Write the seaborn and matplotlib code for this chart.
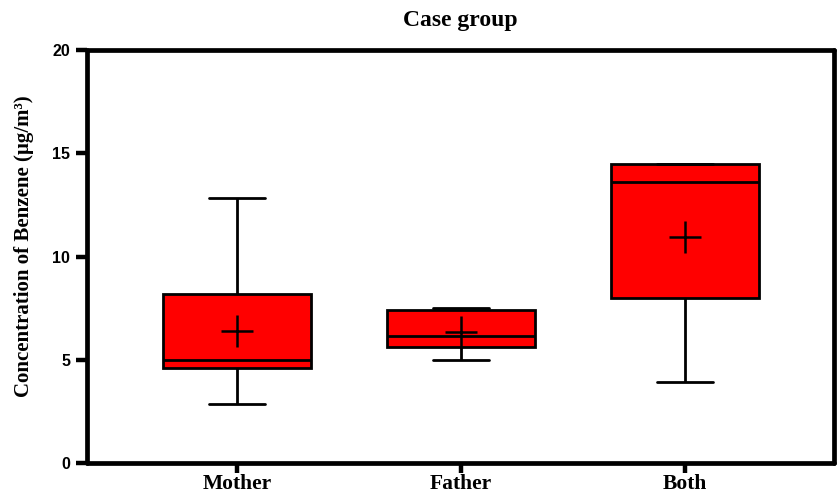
import matplotlib
matplotlib.use("Agg")
import matplotlib.pyplot as plt
import seaborn as sns
import pandas as pd

# Five-number summaries (min, Q1, median, Q3, max) and means per group
groups = ["Mother", "Father", "Both"]
mins = [2.85, 4.98, 3.92]
q1s = [4.60, 5.62, 7.99]
medians = [4.99, 6.15, 13.60]
q3s = [8.18, 7.41, 14.48]
maxs = [12.83, 7.50, 14.48]
means = [6.39, 6.34, 10.94]
yticks = [0, 5, 10, 15, 20]

rows = []
for g, a, b, c, d, e in zip(groups, mins, q1s, medians, q3s, maxs):
    for v in (a, b, c, d, e):
        rows.append({"group": g, "value": v})
df = pd.DataFrame(rows)
mean_df = pd.DataFrame({"group": groups, "value": means})

sns.set_theme(style="white")
plt.rcParams["font.family"] = ["Liberation Serif", "DejaVu Serif"]
plt.rcParams["text.color"] = "black"
plt.rcParams["axes.labelcolor"] = "black"
plt.rcParams["xtick.color"] = "black"
plt.rcParams["ytick.color"] = "black"

fig = plt.figure(figsize=(8.39, 4.97), dpi=100)
ax = fig.add_axes([0.1037, 0.0684, 0.8903, 0.831])

sns.boxplot(data=df, x="group", y="value", order=groups, whis=(0, 100),
            width=0.66, color="#ff0000", saturation=1, linecolor="black",
            linewidth=2.0, capwidths=0.25, ax=ax)
sns.scatterplot(data=mean_df, x="group", y="value", marker="+", s=560,
                color="black", linewidth=1.8, zorder=5, ax=ax, legend=False)

ax.set_ylim(0, 20)
ax.set_xlim(-0.67, 2.665)
ax.set_yticks(yticks)
ax.set_yticklabels([str(t) for t in yticks], fontfamily="Liberation Sans",
                   fontweight="bold", fontsize=11.5, color="black")
ax.set_xticks(range(len(groups)))
ax.set_xticklabels(groups, fontfamily="Liberation Serif", fontweight="bold",
                   fontsize=15.5, color="black")
ax.tick_params(axis="y", left=True, direction="out", length=8, width=3.2, pad=4)
ax.tick_params(axis="x", bottom=True, direction="out", length=7, width=3.2, pad=1)

for sp in ax.spines.values():
    sp.set_linewidth(3.4)
    sp.set_color("black")
    sp.set_capstyle("round")
    sp.set_visible(True)

ax.set_xlabel("")
ax.set_ylabel("Concentration of Benzene (µg/m³)", fontfamily="Liberation Serif",
              fontweight="bold", fontsize=15, color="black")
ax.yaxis.set_label_coords(-0.071, 0.524)
ax.set_title("Case group", fontfamily="Liberation Serif", fontweight="bold",
             fontsize=17, pad=17, color="black")

fig.savefig("out.png", dpi=100)
